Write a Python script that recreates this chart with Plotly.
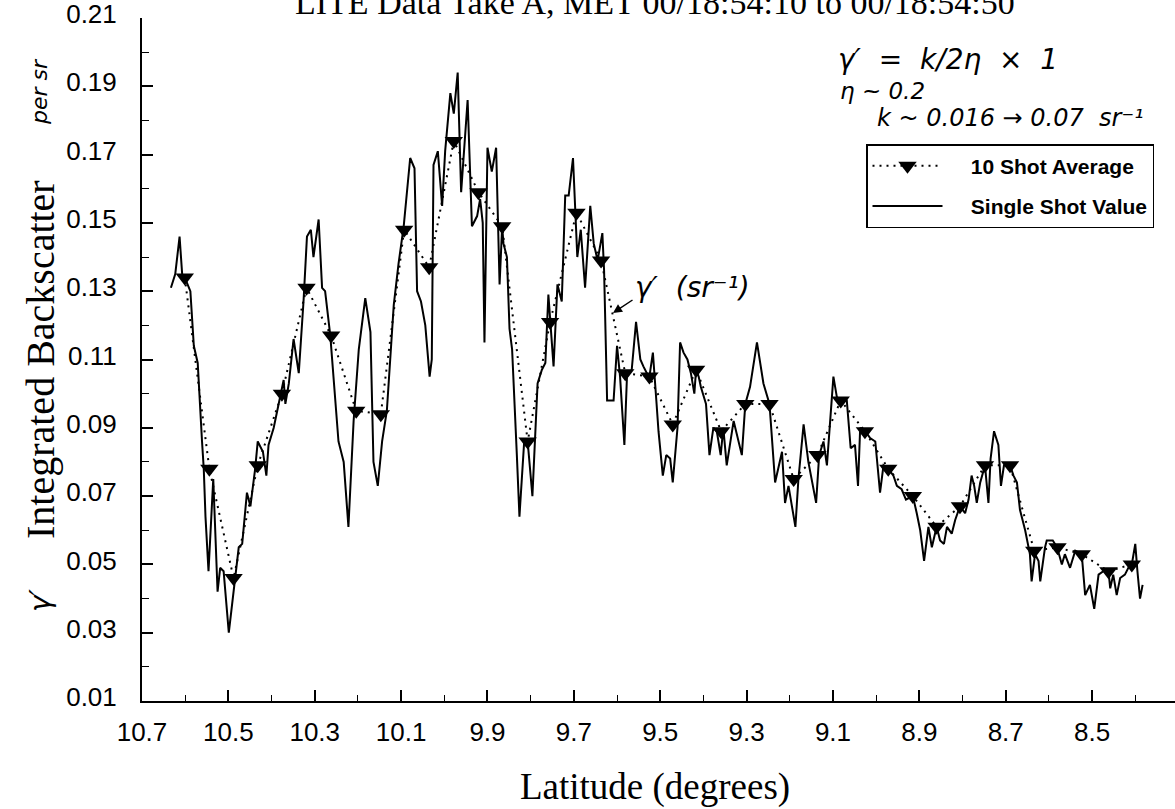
import plotly.graph_objects as go

# ---------------- data ----------------
avg_lat = [10.601, 10.544, 10.488, 10.432, 10.376, 10.319, 10.262, 10.204, 10.147, 10.093,
           10.035, 9.978, 9.921, 9.866, 9.807, 9.755, 9.694, 9.637, 9.581, 9.525,
           9.471, 9.417, 9.359, 9.303, 9.247, 9.191, 9.136, 9.082, 9.026, 8.972,
           8.915, 8.860, 8.806, 8.748, 8.690, 8.634, 8.580, 8.524, 8.462, 8.408]
avg_val = [0.134, 0.078, 0.046, 0.079, 0.100, 0.131, 0.117, 0.095, 0.094, 0.148,
           0.137, 0.174, 0.159, 0.149, 0.086, 0.121, 0.153, 0.139, 0.106, 0.105,
           0.091, 0.107, 0.089, 0.097, 0.097, 0.075, 0.082, 0.098, 0.089, 0.078,
           0.070, 0.061, 0.067, 0.079, 0.079, 0.054, 0.055, 0.053, 0.048, 0.050]

shot_lat = [10.633, 10.623, 10.613, 10.607, 10.601, 10.588, 10.580, 10.571, 10.561, 10.557,
            10.553, 10.546, 10.535, 10.525, 10.519, 10.511, 10.499, 10.488, 10.476, 10.468,
            10.457, 10.449, 10.438, 10.432, 10.420, 10.412, 10.407, 10.395, 10.380, 10.372,
            10.368, 10.360, 10.349, 10.337, 10.326, 10.318, 10.309, 10.303, 10.291, 10.283,
            10.276, 10.264, 10.245, 10.233, 10.222, 10.210, 10.198, 10.183, 10.171, 10.164,
            10.154, 10.144, 10.133, 10.121, 10.117, 10.106, 10.094, 10.079, 10.069, 10.063,
            10.054, 10.044, 10.034, 10.029, 10.025, 10.015, 10.005, 9.998, 9.986, 9.978,
            9.969, 9.961, 9.946, 9.936, 9.924, 9.917, 9.911, 9.907, 9.900, 9.890,
            9.880, 9.872, 9.866, 9.863, 9.855, 9.849, 9.843, 9.832, 9.826, 9.815,
            9.807, 9.796, 9.784, 9.774, 9.766, 9.759, 9.755, 9.747, 9.738, 9.728,
            9.720, 9.712, 9.702, 9.697, 9.692, 9.684, 9.674, 9.662, 9.654, 9.645,
            9.634, 9.630, 9.623, 9.608, 9.600, 9.593, 9.583, 9.577, 9.566, 9.556,
            9.546, 9.539, 9.531, 9.525, 9.517, 9.509, 9.504, 9.494, 9.486, 9.477,
            9.471, 9.460, 9.454, 9.446, 9.437, 9.429, 9.421, 9.417, 9.411, 9.406,
            9.394, 9.386, 9.377, 9.369, 9.360, 9.354, 9.346, 9.330, 9.319, 9.311,
            9.303, 9.292, 9.276, 9.261, 9.247, 9.234, 9.218, 9.211, 9.203, 9.187,
            9.180, 9.168, 9.157, 9.139, 9.132, 9.122, 9.114, 9.099, 9.091, 9.082,
            9.068, 9.059, 9.049, 9.042, 9.037, 9.025, 9.014, 9.002, 8.991, 8.983,
            8.972, 8.960, 8.952, 8.941, 8.931, 8.915, 8.906, 8.898, 8.889, 8.879,
            8.871, 8.860, 8.852, 8.843, 8.836, 8.825, 8.817, 8.806, 8.794, 8.786,
            8.779, 8.773, 8.767, 8.759, 8.748, 8.740, 8.735, 8.727, 8.717, 8.711,
            8.704, 8.690, 8.682, 8.674, 8.667, 8.655, 8.644, 8.640, 8.632, 8.624,
            8.620, 8.609, 8.605, 8.591, 8.581, 8.570, 8.563, 8.551, 8.539, 8.524,
            8.516, 8.505, 8.495, 8.485, 8.474, 8.462, 8.458, 8.451, 8.443, 8.435,
            8.424, 8.416, 8.408, 8.400, 8.395, 8.389, 8.383]
shot_val = [0.131, 0.135, 0.146, 0.135, 0.134, 0.130, 0.114, 0.109, 0.086, 0.078,
            0.064, 0.048, 0.075, 0.042, 0.049, 0.048, 0.030, 0.042, 0.055, 0.056,
            0.071, 0.067, 0.078, 0.086, 0.083, 0.076, 0.085, 0.090, 0.099, 0.104,
            0.097, 0.103, 0.116, 0.106, 0.127, 0.146, 0.148, 0.140, 0.151, 0.131,
            0.130, 0.117, 0.086, 0.080, 0.061, 0.092, 0.113, 0.128, 0.118, 0.080,
            0.073, 0.086, 0.095, 0.119, 0.126, 0.138, 0.149, 0.169, 0.166, 0.130,
            0.127, 0.120, 0.105, 0.110, 0.167, 0.171, 0.155, 0.171, 0.188, 0.182,
            0.194, 0.159, 0.186, 0.149, 0.152, 0.157, 0.150, 0.115, 0.172, 0.165,
            0.172, 0.132, 0.149, 0.144, 0.140, 0.119, 0.113, 0.082, 0.064, 0.086,
            0.086, 0.070, 0.103, 0.107, 0.109, 0.129, 0.121, 0.108, 0.132, 0.127,
            0.158, 0.158, 0.169, 0.154, 0.140, 0.148, 0.131, 0.155, 0.144, 0.139,
            0.147, 0.136, 0.098, 0.098, 0.114, 0.105, 0.085, 0.105, 0.107, 0.121,
            0.110, 0.108, 0.106, 0.105, 0.112, 0.098, 0.089, 0.076, 0.082, 0.081,
            0.074, 0.090, 0.115, 0.112, 0.110, 0.106, 0.100, 0.107, 0.105, 0.102,
            0.097, 0.082, 0.090, 0.089, 0.082, 0.090, 0.079, 0.092, 0.086, 0.082,
            0.097, 0.102, 0.115, 0.103, 0.097, 0.074, 0.083, 0.068, 0.073, 0.061,
            0.075, 0.091, 0.080, 0.068, 0.082, 0.086, 0.079, 0.105, 0.099, 0.098,
            0.098, 0.084, 0.085, 0.073, 0.090, 0.089, 0.087, 0.086, 0.071, 0.079,
            0.078, 0.076, 0.073, 0.072, 0.069, 0.070, 0.065, 0.060, 0.051, 0.061,
            0.055, 0.061, 0.057, 0.056, 0.061, 0.059, 0.063, 0.067, 0.065, 0.069,
            0.076, 0.073, 0.068, 0.074, 0.079, 0.068, 0.081, 0.089, 0.085, 0.073,
            0.079, 0.079, 0.076, 0.074, 0.066, 0.060, 0.053, 0.045, 0.053, 0.051,
            0.045, 0.055, 0.057, 0.057, 0.055, 0.050, 0.053, 0.049, 0.054, 0.053,
            0.041, 0.044, 0.037, 0.047, 0.048, 0.048, 0.043, 0.047, 0.041, 0.046,
            0.047, 0.049, 0.050, 0.056, 0.048, 0.040, 0.044]

x_ticks = [10.7, 10.5, 10.3, 10.1, 9.9, 9.7, 9.5, 9.3, 9.1, 8.9, 8.7, 8.5]
y_ticks = [0.01, 0.03, 0.05, 0.07, 0.09, 0.11, 0.13, 0.15, 0.17, 0.19, 0.21]

title_text = "LITE Data Take A, MET 00/18:54:10 to 00/18:54:50"
x_title = "Latitude (degrees)"
y_title = "Integrated Backscatter"
avg_name = "10 Shot Average"
shot_name = "Single Shot Value"

# ---------------- layout geometry ----------------
W, H = 1175, 809
L, R, T, B = 142, 0, 18, 108
PW, PH = W - L - R, H - T - B


def fx(p):
    return (p - L) / PW


def fy(p):
    return (H - B - p) / PH


SANS = "Liberation Sans, Arial, sans-serif"
SERIF = "Liberation Serif, Times New Roman, serif"
HAND = "DejaVu Sans, sans-serif"
NB = "\u00a0" * 4

fig = go.Figure()
fig.add_trace(go.Scatter(
    x=shot_lat, y=shot_val, mode="lines", name=NB + shot_name,
    line=dict(color="black", width=2), legendrank=2, legendgroup="b"))
fig.add_trace(go.Scatter(
    x=avg_lat, y=avg_val, mode="lines+markers", name=NB + avg_name,
    line=dict(color="black", width=2, dash="2px,5px"),
    marker=dict(symbol="triangle-down", size=16, color="black"),
    legendrank=1, legendgroup="a"))


def note(text, x, y, size, angle=0, family=HAND, italic=True):
    f = dict(family=family, size=size, color="black")
    if italic:
        f["style"] = "italic"
    return dict(text=text, x=fx(x), y=fy(y), xref="paper", yref="paper",
                xanchor="center", yanchor="middle", showarrow=False,
                textangle=angle, font=f)


annotations = [
    note(title_text, 655, 3, 34, family=SERIF, italic=False),
    note(x_title, 655, 787, 37, family=SERIF, italic=False),
    note(y_title, 40, 360, 40, angle=-90, family=SERIF, italic=False),
    # handwritten notes
    note("γ′  =  k/2η  ×  1", 948, 59, 28),
    note("η ~ 0.2", 882, 91, 23),
    note("k ~ 0.016 → 0.07  sr⁻¹", 1010, 118, 24),
    note("γ′  (sr⁻¹)", 692, 287, 28),
    dict(text="", x=fx(613), y=fy(313), xref="paper", yref="paper",
         ax=21, ay=-14, axref="pixel", ayref="pixel",
         showarrow=True, arrowhead=2, arrowsize=1.2, arrowwidth=1.5, arrowcolor="black"),
    note("γ′", 40, 600, 28, angle=-90),
    note("per sr", 40, 92, 22, angle=-90),
]

fig.update_layout(
    width=W, height=H,
    margin=dict(l=L, r=R, t=T, b=B, pad=0),
    paper_bgcolor="white", plot_bgcolor="white",
    showlegend=True,
    legend=dict(x=fx(866), y=fy(144), xanchor="left", yanchor="top",
                bgcolor="white", bordercolor="black", borderwidth=1.5,
                font=dict(family=SANS, size=21, color="black", weight="bold"),
                itemwidth=70, tracegroupgap=10, traceorder="grouped"),
    annotations=annotations,
)

fig.update_xaxes(
    range=[10.7, 8.308], tickmode="array", tickvals=x_ticks,
    ticktext=[f"{v:.1f}" for v in x_ticks],
    ticks="inside", ticklen=11, tickwidth=1.5, tickcolor="black",
    minor=dict(tickmode="linear", tick0=10.7, dtick=0.1, ticks="inside",
               ticklen=6, tickwidth=1.2, tickcolor="black"),
    showline=True, linewidth=2, linecolor="black",
    showgrid=False, zeroline=False, ticklabelstandoff=7,
    tickfont=dict(family=SANS, size=26, color="black"))
fig.update_yaxes(
    range=[0.01, 0.21], tickmode="array", tickvals=y_ticks,
    ticktext=[f"{v:.2f}" for v in y_ticks],
    ticks="inside", ticklen=11, tickwidth=1.5, tickcolor="black",
    minor=dict(tickmode="linear", tick0=0.01, dtick=0.01, ticks="inside",
               ticklen=7, tickwidth=1.2, tickcolor="black"),
    showline=True, linewidth=2, linecolor="black",
    showgrid=False, zeroline=False, ticklabelstandoff=18,
    ticklabelshift=-4, ticklabeloverflow="allow",
    tickfont=dict(family=SANS, size=26, color="black"))

fig.write_html("out.html")
